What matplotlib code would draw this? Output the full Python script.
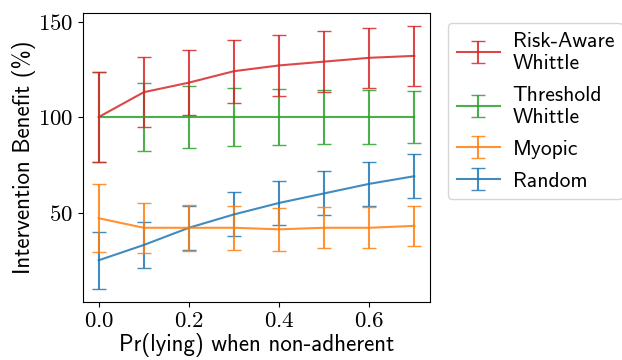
import matplotlib
matplotlib.use("Agg")
import matplotlib.pyplot as plt

plt.rcParams["mathtext.fontset"] = "cm"
plt.rcParams["axes.formatter.use_mathtext"] = True
plt.rcParams["font.family"] = ["cmss10", "DejaVu Sans"]
plt.rcParams["axes.unicode_minus"] = False

x = [0.0, 0.1, 0.2, 0.3, 0.4, 0.5, 0.6, 0.7]

risk_mean = [100, 113, 118, 124, 127, 129, 131, 132]
risk_err = [23.7, 18.4, 17.0, 16.5, 16.2, 15.8, 15.8, 15.6]

thresh_mean = [100, 100, 100, 100, 100, 100, 100, 100]
thresh_err = [23.7, 18.0, 16.1, 15.2, 14.8, 14.2, 14.3, 13.7]

myopic_mean = [47, 42, 42, 42, 41.2, 42, 42, 43]
myopic_err = [17.8, 13.2, 12.0, 11.4, 11.1, 10.7, 10.7, 10.6]

random_mean = [25, 33, 42, 49, 55, 60, 65, 69]
random_err = [15.0, 12.0, 11.6, 11.5, 11.4, 11.5, 11.7, 11.6]

labels = ["Risk-Aware\nWhittle", "Threshold\nWhittle", "Myopic", "Random"]
colors = ["#d62728", "#2ca02c", "#ff7f0e", "#1f77b4"]

fig = plt.figure(figsize=(6.22, 3.6), dpi=100)
ax = fig.add_axes([0.1334, 0.161, 0.558, 0.803])

series = [(risk_mean, risk_err), (thresh_mean, thresh_err),
          (myopic_mean, myopic_err), (random_mean, random_err)]
handles = []
# draw bottom-up so risk-aware ends on top, legend keeps original order
for (m, e), lab, c in reversed(list(zip(series, labels, colors))):
    h = ax.errorbar(x, m, yerr=e, color=c, label=lab, capsize=5,
                    linewidth=1.5, elinewidth=1.5, alpha=0.85)
    handles.insert(0, h)

ax.set_xticks([0.0, 0.2, 0.4, 0.6])
ax.set_yticks([50, 100, 150])
ax.tick_params(labelsize=16.5)
for lbl in ax.get_xticklabels() + ax.get_yticklabels():
    lbl.set_family("cmr10")
ax.set_xlabel("Pr(lying) when non-adherent", fontsize=16.5, labelpad=1)
ax.set_ylabel("Intervention Benefit (%)", fontsize=16.5, labelpad=1)

ax.legend(handles=handles, labels=labels, loc="upper left",
          bbox_to_anchor=(1.052, 0.965), borderaxespad=0,
          fontsize=15.5, handletextpad=0.6, labelspacing=0.6)

fig.savefig("out.png", dpi=100)
